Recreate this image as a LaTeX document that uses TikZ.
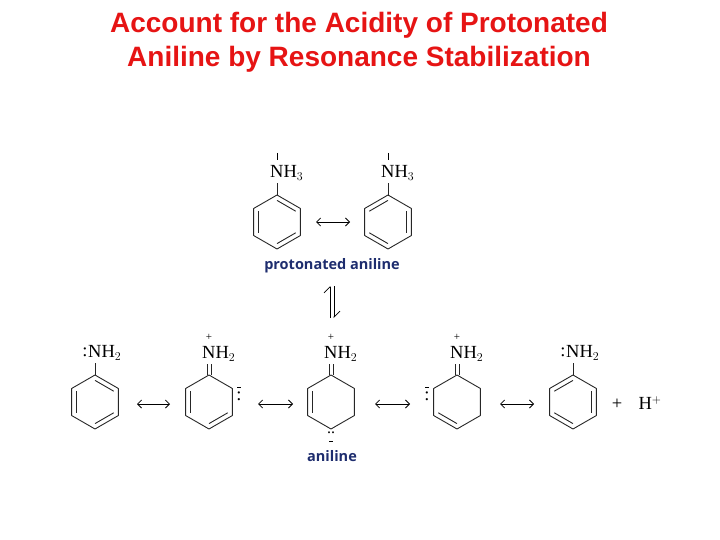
\documentclass[tikz,border=0pt]{standalone}
\usepackage{fontspec}
\setmainfont{Liberation Serif}
\newfontfamily\titlefont{Liberation Sans}
\newfontfamily\labfont{Open Sans}
\usetikzlibrary{calc,arrows.meta}
\definecolor{titlered}{RGB}{230,20,20}
\definecolor{labblue}{RGB}{30,45,110}
\tikzset{
  bond/.style={line width=0.9pt,black!85},
  res/.style={line width=0.8pt,{Straight Barb[length=4pt]}-{Straight Barb[length=4pt]}},
  chem/.style={font=\fontsize{18.5}{18.5}\selectfont,inner sep=0pt},
  lab/.style={font=\labfont\bfseries\fontsize{14.5}{14.5}\selectfont,text=labblue},
  ttl/.style={font=\titlefont\bfseries\fontsize{28}{34}\selectfont,text=titlered,align=center}
}
\newcommand{\ring}[3]{%
  \coordinate (#1c) at (#2,#3);
  \coordinate (#1-1) at (#2,#3-27);
  \coordinate (#1-2) at (#2+23.4,#3-13.5);
  \coordinate (#1-3) at (#2+23.4,#3+13.5);
  \coordinate (#1-4) at (#2,#3+27);
  \coordinate (#1-5) at (#2-23.4,#3+13.5);
  \coordinate (#1-6) at (#2-23.4,#3-13.5);
  \draw[bond,line join=round] (#1-1)--(#1-2)--(#1-3)--(#1-4)--(#1-5)--(#1-6)--cycle;}
\newcommand{\dbl}[3]{\draw[bond] ($(#1-#2)!0.2!(#1c)$)--($(#1-#3)!0.2!(#1c)$);}
\begin{document}
\begin{tikzpicture}[x=1pt,y=-1pt]
\useasboundingbox (0,0) rectangle (720,540);
\node[ttl] (title) at (359,42) {Account for the Acidity of Protonated\\Aniline by Resonance Stabilization};
% top row
\ring{p}{277}{222}\dbl{p}{1}{2}\dbl{p}{3}{4}\dbl{p}{5}{6}
\ring{q}{388}{222}\dbl{q}{6}{1}\dbl{q}{2}{3}\dbl{q}{4}{5}
\node[chem,anchor=west] (pn) at (270,173) {NH$_3$};
\node[chem,anchor=west] (qn) at (381,173) {NH$_3$};
\draw[bond] (p-1)--(277,183); \draw[bond] (388,196)--(388,183);
\draw[line width=0.6pt] (277,153)--(277,160); \draw[line width=0.6pt] (388,153)--(388,160);
\coordinate (a1l) at (316,222); \coordinate (a1r) at (350,222);
\draw[res] (a1l)--(a1r);
\node[lab] (prot) at (332,266) {protonated aniline};
\coordinate (e1) at (330,318); \coordinate (e2) at (330,286);
\coordinate (e3) at (334,286); \coordinate (e4) at (334,318);
\draw[line width=0.7pt,-{Straight Barb[left,length=6pt]}] (e1)--(e2);
\draw[line width=0.7pt,-{Straight Barb[left,length=6pt]}] (e3)--(e4);
% bottom row
\ring{a}{95}{402}\dbl{a}{1}{2}\dbl{a}{3}{4}\dbl{a}{5}{6}
\ring{b}{209}{402}\dbl{b}{5}{6}\dbl{b}{3}{4}
\ring{c}{331}{402}\dbl{c}{5}{6}
\ring{d}{457}{402}\dbl{d}{4}{5}
\ring{e}{573}{402}\dbl{e}{6}{1}\dbl{e}{2}{3}\dbl{e}{4}{5}
\foreach \r/\x in {a/95,e/573}{
  \node[chem,anchor=west] (\r n) at (\x-7,353) {NH$_2$};
  \node[chem] (\r lp) at (\x-10,352) {:};
  \draw[bond] (\r-1)--(\x,363);}
\foreach \r/\x in {b/209,c/331,d/457}{
  \node[chem,anchor=west] (\r n) at (\x-7,354) {NH$_2$};
  \node[font=\fontsize{11}{11}\selectfont,inner sep=0pt] (\r pl) at (\x,337) {+};
  \draw[bond] ($(\r-1)+(-2,0)$)--(\x-2,364);
  \draw[bond] ($(\r-1)+(2,0)$)--(\x+2,364);}
% carbanion lone pairs
\node[chem] (blp) at (239,396) {:};
\draw[line width=0.7pt] (237,387.5)--(241,387.5);
\node[chem] (dlp) at (427,396) {:};
\draw[line width=0.7pt] (425,387.5)--(429,387.5);
\node[font=\fontsize{16}{16}\selectfont,inner sep=0pt] (clp) at (331,433) {..};
\draw[line width=0.7pt] (329,441)--(333,441);
% arrows
\foreach \i/\xl/\xr in {1/137/170,2/258/293,3/375/410,4/500/534}{
  \coordinate (l\i) at (\xl,404); \coordinate (r\i) at (\xr,404);
  \draw[res] (l\i)--(r\i);}
\node[chem] (plus) at (617,404) {+};
\node[chem] (hp) at (650,403) {H$^+$};
\node[lab] (anil) at (332,456) {aniline};
\end{tikzpicture}
\end{document}
